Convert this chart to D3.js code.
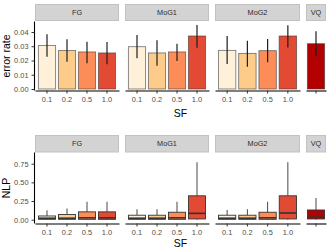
<!DOCTYPE html>
<html><head><meta charset="utf-8">
<script src="https://cdn.jsdelivr.net/npm/d3@7"></script>
<style>
body{margin:0;background:#fff;}
svg{display:block;font-family:"Liberation Sans",Arial,sans-serif;}
</style></head>
<body>
<svg id="c" width="329" height="250"></svg>
<script>
// ---------- data ----------
const methods = ["FG", "MoG1", "MoG2", "VQ"];
const sfLevels = ["0.1", "0.2", "0.5", "1.0"];
const fillColors = ["#fef0d9", "#fdcc8a", "#fc8d59", "#e34a33"];
const vqColor = "#b30000";

// error rate (mean, lower, upper)
const errFG     = [0.0305, 0.0270, 0.0260, 0.0253];
const errFGLo   = [0.0227, 0.0192, 0.0180, 0.0173];
const errFGHi   = [0.0384, 0.0349, 0.0332, 0.0330];
const errMoG1   = [0.0297, 0.0253, 0.0260, 0.0372];
const errMoG1Lo = [0.0215, 0.0164, 0.0196, 0.0290];
const errMoG1Hi = [0.0379, 0.0342, 0.0318, 0.0449];
const errMoG2   = [0.0271, 0.0250, 0.0269, 0.0372];
const errMoG2Lo = [0.0175, 0.0157, 0.0187, 0.0292];
const errMoG2Hi = [0.0372, 0.0339, 0.0351, 0.0447];
const errVQ     = [0.0318];
const errVQLo   = [0.0229];
const errVQHi   = [0.0405];

// NLP boxplots: whisker low, q1, median, q3, whisker high
const nlpFGLo = [0, 0, 0, 0];
const nlpFGQ1 = [0.005, 0.005, 0.005, 0.005];
const nlpFGMed = [0.02, 0.02, 0.025, 0.025];
const nlpFGQ3 = [0.05, 0.07, 0.105, 0.105];
const nlpFGHi = [0.125, 0.15, 0.24, 0.24];
const nlpMoG1Lo = [0, 0, 0, 0];
const nlpMoG1Q1 = [0.005, 0.005, 0.005, 0.01];
const nlpMoG1Med = [0.02, 0.02, 0.025, 0.085];
const nlpMoG1Q3 = [0.06, 0.06, 0.10, 0.32];
const nlpMoG1Hi = [0.14, 0.14, 0.24, 0.77];
const nlpMoG2Lo = [0, 0, 0, 0];
const nlpMoG2Q1 = [0.005, 0.005, 0.005, 0.01];
const nlpMoG2Med = [0.02, 0.02, 0.025, 0.09];
const nlpMoG2Q3 = [0.06, 0.06, 0.10, 0.32];
const nlpMoG2Hi = [0.13, 0.14, 0.24, 0.77];
const nlpVQLo = [0];
const nlpVQQ1 = [0.01];
const nlpVQMed = [0.035];
const nlpVQQ3 = [0.13];
const nlpVQHi = [0.29];

const errTicks = [0, 0.01, 0.02, 0.03, 0.04];
const nlpTicks = [0, 0.25, 0.5, 0.75];

// ---------- layout ----------
const svg = d3.select("#c");
const FONT = "Liberation Sans, Arial, sans-serif";
const panelX = [[35, 119], [125, 209], [215, 300], [306, 326]];
const panelCats = [sfLevels, sfLevels, sfLevels, ["VQ"]];
const xScales = panelX.map((r, i) => {
  const s = d3.scaleBand().domain(panelCats[i]).range(r).paddingInner(0.1);
  return i < 3 ? s.paddingOuter(0.15) : s.paddingOuter(0.05);
});
function colorFor(pi, j) { return pi < 3 ? fillColors[j] : vqColor; }

const rows = [
  { stripY: [4, 21], panel: [21.5, 90.5], y: d3.scaleLinear().domain([0, 0.04]).range([89, 32]),
    ticks: errTicks, title: "error rate", xTitleY: 116.5 },
  { stripY: [135, 152.5], panel: [152.5, 223.5], y: d3.scaleLinear().domain([0, 0.75]).range([219.7, 163.7]),
    ticks: nlpTicks, title: "NLP", xTitleY: 247 }
];

function drawFrame(row) {
  const g = svg.append("g");
  // strips
  methods.forEach((m, i) => {
    const [x0, x1] = panelX[i];
    g.append("rect").attr("x", x0 + 0.5).attr("y", row.stripY[0] + 0.5)
      .attr("width", x1 - x0 - 1).attr("height", row.stripY[1] - row.stripY[0] - 1)
      .attr("fill", "#d3d3d3").attr("stroke", "#c2c2c2").attr("stroke-width", 1);
    g.append("text").attr("x", (x0 + x1) / 2).attr("y", (row.stripY[0] + row.stripY[1]) / 2 + 2.6)
      .attr("text-anchor", "middle").attr("font-size", 7.3).attr("fill", "#2b2b2b")
      .attr("font-family", FONT).text(m);
  });
  // y axis
  const ya = d3.axisLeft(row.y).tickValues(row.ticks).tickFormat(d3.format(".2f"))
    .tickSize(3).tickPadding(3).tickSizeOuter(0);
  const yg = g.append("g").attr("transform", "translate(34.5,0)").call(ya);
  yg.select(".domain").attr("d", `M0,${row.panel[0]}V${row.panel[1]}`).attr("stroke", "#000").attr("stroke-width", 1.1);
  yg.selectAll(".tick line").attr("stroke", "#333");
  yg.selectAll(".tick text").attr("font-size", 7.4).attr("fill", "#4d4d4d").attr("font-family", FONT);
  // x axes
  xScales.forEach((xs, i) => {
    const xa = d3.axisBottom(xs).tickSize(3).tickPadding(3.5).tickSizeOuter(0)
      .tickFormat(d => i < 3 ? d : "");
    const xg = g.append("g").attr("transform", `translate(0,${row.panel[1]})`).call(xa);
    xg.select(".domain").attr("stroke", "#000").attr("stroke-width", 1.1);
    xg.selectAll(".tick line").attr("stroke", "#333");
    xg.selectAll(".tick text").attr("font-size", 7.4).attr("fill", "#4d4d4d").attr("font-family", FONT);
  });
  // titles
  const cy = (row.panel[0] + row.panel[1]) / 2;
  g.append("text").attr("transform", `translate(9.5,${cy}) rotate(-90)`)
    .attr("text-anchor", "middle").attr("font-size", 10.5).attr("fill", "#000")
    .attr("font-family", FONT).text(row.title);
  g.append("text").attr("x", 180.5).attr("y", row.xTitleY).attr("text-anchor", "middle")
    .attr("font-size", 10.5).attr("fill", "#000").attr("font-family", FONT).text("SF");
}
rows.forEach(drawFrame);

// ---------- top: bars + error bars ----------
const errSets = [[errFG, errFGLo, errFGHi], [errMoG1, errMoG1Lo, errMoG1Hi],
                 [errMoG2, errMoG2Lo, errMoG2Hi], [errVQ, errVQLo, errVQHi]];
const yTop = rows[0].y;
const gb = svg.append("g");
errSets.forEach(([mean, lo, hi], pi) => {
  const xs = xScales[pi];
  const cats = panelCats[pi];
  const data = mean.map((v, j) => ({ cat: cats[j], v, lo: lo[j], hi: hi[j], j }));
  gb.selectAll(null).data(data).enter().append("rect")
    .attr("x", d => xs(d.cat) + 0.4).attr("width", xs.bandwidth() - 0.8)
    .attr("y", d => yTop(d.v)).attr("height", d => yTop(0) - yTop(d.v))
    .attr("fill", d => colorFor(pi, d.j)).attr("stroke", "#3a3a3a")
    .attr("stroke-opacity", 0.65).attr("stroke-width", 0.9);
  gb.selectAll(null).data(data).enter().append("line")
    .attr("x1", d => xs(d.cat) + xs.bandwidth() / 2).attr("x2", d => xs(d.cat) + xs.bandwidth() / 2)
    .attr("y1", d => yTop(d.lo)).attr("y2", d => yTop(d.hi))
    .attr("stroke", "#1e1e1e").attr("stroke-width", 1.2);
});

// ---------- bottom: boxplots ----------
const boxSets = [[nlpFGLo, nlpFGQ1, nlpFGMed, nlpFGQ3, nlpFGHi],
                 [nlpMoG1Lo, nlpMoG1Q1, nlpMoG1Med, nlpMoG1Q3, nlpMoG1Hi],
                 [nlpMoG2Lo, nlpMoG2Q1, nlpMoG2Med, nlpMoG2Q3, nlpMoG2Hi],
                 [nlpVQLo, nlpVQQ1, nlpVQMed, nlpVQQ3, nlpVQHi]];
const yBot = rows[1].y;
const gx = svg.append("g");
boxSets.forEach(([lo, q1, med, q3, hi], pi) => {
  const xs = xScales[pi];
  const cats = panelCats[pi];
  const data = lo.map((v, j) => ({ cat: cats[j], lo: v, q1: q1[j], med: med[j], q3: q3[j], hi: hi[j], j }));
  const cx = d => xs(d.cat) + xs.bandwidth() / 2;
  gx.selectAll(null).data(data).enter().append("line")
    .attr("x1", cx).attr("x2", cx).attr("y1", d => yBot(d.q3)).attr("y2", d => yBot(d.hi))
    .attr("stroke", "#333").attr("stroke-width", 0.9);
  gx.selectAll(null).data(data).enter().append("line")
    .attr("x1", cx).attr("x2", cx).attr("y1", d => yBot(d.q1)).attr("y2", d => yBot(d.lo))
    .attr("stroke", "#333").attr("stroke-width", 0.9);
  gx.selectAll(null).data(data).enter().append("rect")
    .attr("x", d => xs(d.cat) + 0.5).attr("width", xs.bandwidth() - 1)
    .attr("y", d => yBot(d.q3)).attr("height", d => yBot(d.q1) - yBot(d.q3))
    .attr("fill", d => colorFor(pi, d.j)).attr("stroke", "#333").attr("stroke-width", 0.9);
  gx.selectAll(null).data(data).enter().append("line")
    .attr("x1", d => xs(d.cat) + 0.5).attr("x2", d => xs(d.cat) + xs.bandwidth() - 0.5)
    .attr("y1", d => yBot(d.med)).attr("y2", d => yBot(d.med))
    .attr("stroke", "#333").attr("stroke-width", 1.6);
});
</script>
</body></html>
